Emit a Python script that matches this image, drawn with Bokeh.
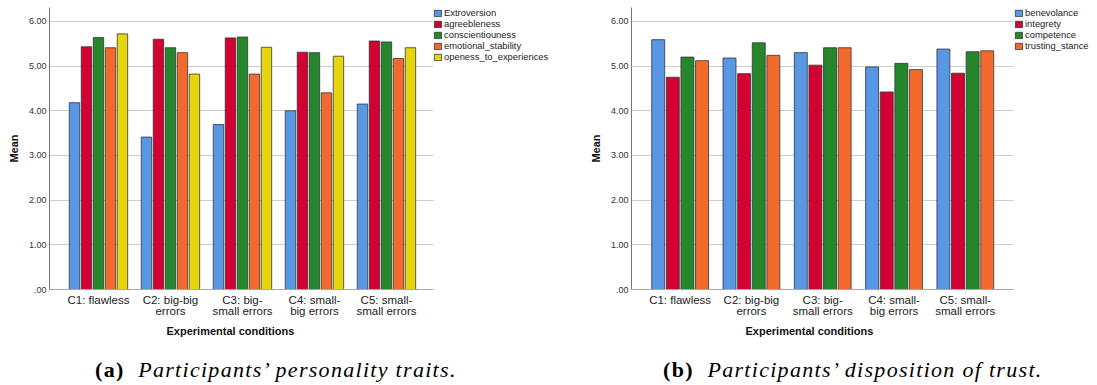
from bokeh.plotting import figure
from bokeh.models import (Range1d, FixedTicker, Legend, LegendItem, Div,
                          BoxAnnotation, Title)
from bokeh.layouts import row, column
from bokeh.embed import file_html
from bokeh.resources import INLINE

# ---------------- data ----------------
conditions = ["C1: flawless", "C2: big-big\nerrors", "C3: big-\nsmall errors",
              "C4: small-\nbig errors", "C5: small-\nsmall errors"]

traits = ["Extroversion", "agreebleness", "conscientiouness",
          "emotional_stability", "openess_to_experiences"]
extroversion = [4.18, 3.41, 3.69, 4.00, 4.15]
agreebleness = [5.43, 5.60, 5.63, 5.31, 5.56]
conscientiouness = [5.64, 5.41, 5.65, 5.30, 5.54]
emotional_stability = [5.41, 5.30, 4.82, 4.40, 5.17]
openess_to_experiences = [5.72, 4.82, 5.42, 5.22, 5.41]

trust_dims = ["benevolance", "integrety", "competence", "trusting_stance"]
benevolance = [5.59, 5.18, 5.30, 4.98, 5.38]
integrety = [4.75, 4.83, 5.02, 4.42, 4.84]
competence = [5.20, 5.52, 5.41, 5.06, 5.32]
trusting_stance = [5.12, 5.24, 5.41, 4.92, 5.34]

y_ticks = [0, 1, 2, 3, 4, 5, 6]
y_tick_labels = [".00", "1.00", "2.00", "3.00", "4.00", "5.00", "6.00"]

x_title = "Experimental conditions"
y_title = "Mean"
caption_a = ("(a)", "Participants\u2019 personality traits.")
caption_b = ("(b)", "Participants\u2019 disposition of trust.")

colors5 = ["#5797e4", "#d20033", "#25862b", "#f26a2c", "#e5d60f"]
colors4 = ["#5797e4", "#d20033", "#25862b", "#f26a2c"]

TICK_FONT = "Liberation Sans"
LABEL_FONT = "Liberation Sans"
FRAME_H = 282
FIG_H = 359


def make_chart(names, series, colors, xstart, data_end, px_per_unit, step,
               bar_w, min_left, total_w, legend_x, title_offset):
    frame_w = total_w - min_left
    xend = xstart + frame_w / px_per_unit
    p = figure(width=total_w, height=FIG_H,
               x_range=Range1d(xstart, xend), y_range=Range1d(0, 6.31),
               output_backend="svg", toolbar_location=None,
               min_border_left=min_left, min_border_right=0,
               min_border_top=7, min_border_bottom=FIG_H - 7 - FRAME_H)
    p.outline_line_color = None
    p.xgrid.grid_line_color = None
    p.ygrid.grid_line_color = "#cdcdcd"
    p.ygrid.grid_line_width = 1
    # keep the grid out of the legend area (as in the reference)
    p.add_layout(BoxAnnotation(left=data_end, fill_color="white", fill_alpha=1,
                               line_alpha=0, level="glyph"))

    n = len(series)
    items = []
    for j, (name, vals, col) in enumerate(zip(names, series, colors)):
        xs = [i + (j - (n - 1) / 2) * step for i in range(len(vals))]
        r = p.vbar(x=xs, top=vals, width=bar_w, bottom=0,
                   fill_color=col, line_color="#363636", line_width=0.8)
        items.append(LegendItem(label=name, renderers=[r]))

    leg_h = 4 + n * 10.6
    legend = Legend(items=items, location=(legend_x, FRAME_H - leg_h + 2),
                    margin=0, padding=2,
                    spacing=0, glyph_width=9, glyph_height=8, label_height=8,
                    label_standoff=2, border_line_color=None,
                    background_fill_alpha=0,
                    label_text_font=TICK_FONT, label_text_font_size="9.4px",
                    label_text_color="#222222")
    p.add_layout(legend)

    p.yaxis.ticker = FixedTicker(ticks=y_ticks)
    p.yaxis.major_label_overrides = dict(zip(y_ticks, y_tick_labels))
    p.yaxis.major_tick_out = 0
    p.yaxis.major_tick_in = 0
    p.yaxis.minor_tick_out = 0
    p.yaxis.minor_tick_in = 0
    p.yaxis.axis_line_color = "#777777"
    p.yaxis.major_label_standoff = 3
    p.yaxis.major_label_text_font = TICK_FONT
    p.yaxis.major_label_text_font_size = "9px"
    p.yaxis.major_label_text_color = "#333333"
    p.yaxis.axis_label = y_title
    p.yaxis.axis_label_text_font = LABEL_FONT
    p.yaxis.axis_label_text_font_style = "bold"
    p.yaxis.axis_label_text_font_size = "11px"
    p.yaxis.axis_label_text_color = "#111111"
    p.yaxis.axis_label_standoff = 6

    p.xaxis.ticker = FixedTicker(ticks=list(range(len(conditions))))
    p.xaxis.major_label_overrides = {i: c for i, c in enumerate(conditions)}
    p.xaxis.bounds = (xstart, data_end)
    p.xaxis.major_tick_out = 0
    p.xaxis.major_tick_in = 0
    p.xaxis.minor_tick_out = 0
    p.xaxis.minor_tick_in = 0
    p.xaxis.axis_line_color = "#a8a8a8"
    p.xaxis.major_label_standoff = 4
    p.xaxis.major_label_text_font = TICK_FONT
    p.xaxis.major_label_text_font_size = "11.5px"
    p.xaxis.major_label_text_line_height = 0.93
    p.xaxis.major_label_text_color = "#222222"

    p.add_layout(Title(text=x_title, align="left", offset=title_offset,
                       standoff=6, text_font=LABEL_FONT,
                       text_font_style="bold", text_font_size="11px",
                       text_color="#111111"), "below")
    return p


pa = make_chart(traits,
                [extroversion, agreebleness, conscientiouness,
                 emotional_stability, openess_to_experiences],
                colors5, -0.68, 4.653, 72.0, 0.1667, 0.145, 49, 550, 384, 117)
pb = make_chart(trust_dims,
                [benevolance, integrety, competence, trusting_stance],
                colors4, -0.682, 4.675, 71.3, 0.205, 0.182, 81, 547, 383, 114)


def caption(tag, text, width, indent):
    html = ('<div style="font-family:\'Liberation Serif\'; font-size:22px; '
            'line-height:22px; white-space:nowrap; color:#000; '
            'letter-spacing:1.3px; '
            'padding-left:%dpx;"><b>%s</b>&nbsp;&nbsp;<i>%s</i></div>'
            % (indent, tag, text))
    return Div(text=html, width=width, height=26, margin=0)


ca = caption(caption_a[0], caption_a[1], 550, 95)
cb = caption(caption_b[0], caption_b[1], 547, 113)

layout = column(row(pa, pb), row(ca, cb))
open("out.html", "w").write(file_html(layout, INLINE))
